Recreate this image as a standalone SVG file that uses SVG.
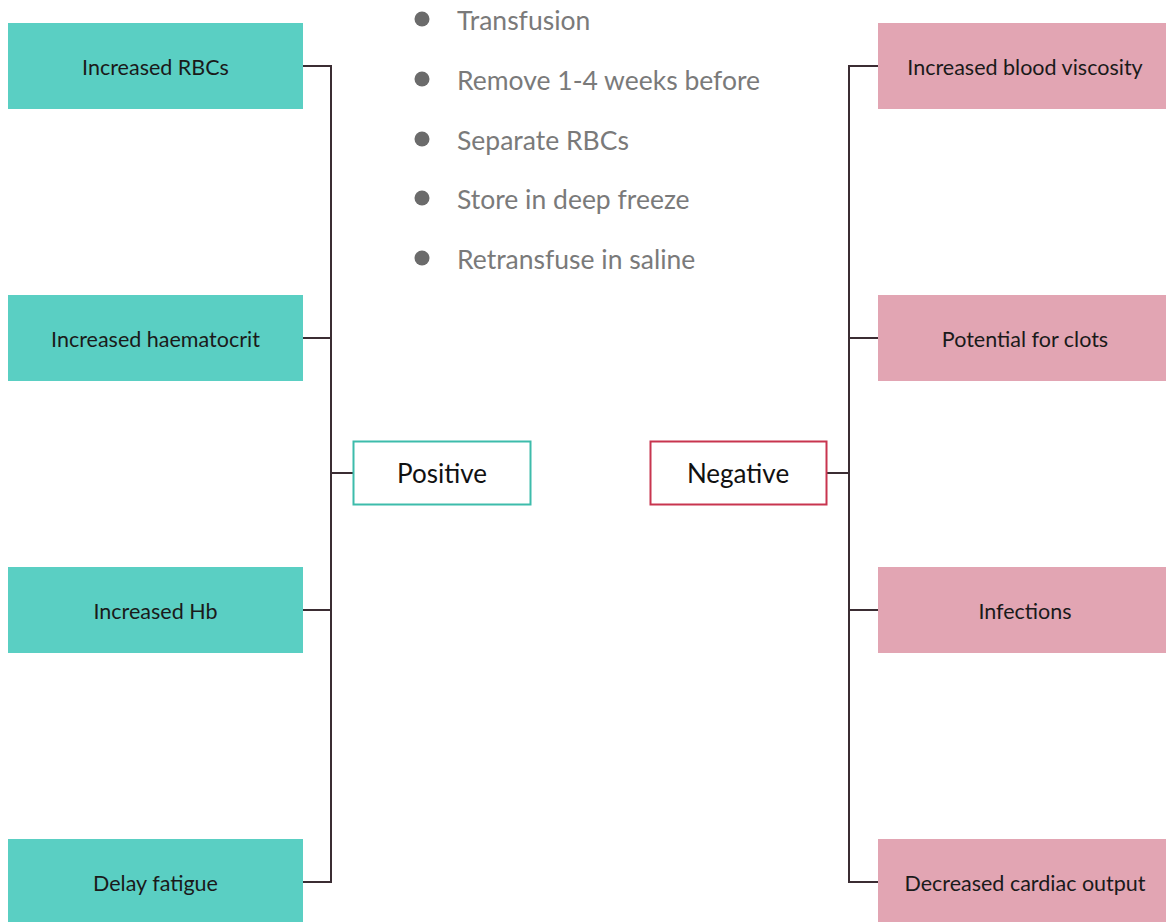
<svg xmlns="http://www.w3.org/2000/svg" width="1166" height="922" viewBox="0 0 1166 922">
  <style>
    .pos { fill: #5acfc3; }
    .neg { fill: #e2a5b3; }
    .lbl { font-family: Lato, "Open Sans", sans-serif; font-size: 21.5px; fill: #1a1a1a; text-anchor: middle; dominant-baseline: central; }
    .hub { font-family: Lato, "Open Sans", sans-serif; font-size: 26px; fill: #111; text-anchor: middle; dominant-baseline: central; }
    .wire { fill: none; stroke: #3b2d33; stroke-width: 2; }
    .bul { fill: #6b6b6b; }
    .btx { font-family: Lato, "Open Sans", sans-serif; font-size: 26.5px; fill: #7a7a7a; dominant-baseline: central; }
  </style>
  <rect width="1166" height="922" fill="#ffffff"/>

  <!-- process steps -->
  <g id="steps">
    <circle class="bul" cx="422" cy="19" r="7.5"/>
    <text class="btx" x="457" y="20">Transfusion</text>
    <circle class="bul" cx="422" cy="79" r="7.5"/>
    <text class="btx" x="457" y="80">Remove 1-4 weeks before</text>
    <circle class="bul" cx="422" cy="139" r="7.5"/>
    <text class="btx" x="457" y="140">Separate RBCs</text>
    <circle class="bul" cx="422" cy="198" r="7.5"/>
    <text class="btx" x="457" y="199">Store in deep freeze</text>
    <circle class="bul" cx="422" cy="258" r="7.5"/>
    <text class="btx" x="457" y="259">Retransfuse in saline</text>
  </g>

  <!-- connectors -->
  <g id="connectors">
    <path class="wire" d="M303 66 H331 V882 H303 M303 338 H331 M303 610 H331 M331 473 H353"/>
    <path class="wire" d="M878 66 H849 V882 H878 M878 338 H849 M878 610 H849 M849 473 H827"/>
  </g>

  <!-- hubs -->
  <g id="positive">
    <rect x="353.5" y="441.5" width="177" height="63" fill="#ffffff" stroke="#3dbcab" stroke-width="2"/>
    <text class="hub" x="442" y="473">Positive</text>
  </g>
  <g id="negative">
    <rect x="650.5" y="441.5" width="176" height="63" fill="#ffffff" stroke="#c8354f" stroke-width="2"/>
    <text class="hub" x="738" y="473">Negative</text>
  </g>

  <!-- positive effects -->
  <g id="pos-rbc">
    <rect class="pos" x="8" y="23" width="295" height="86"/>
    <text class="lbl" x="155.5" y="67">Increased RBCs</text>
  </g>
  <g id="pos-hct">
    <rect class="pos" x="8" y="295" width="295" height="86"/>
    <text class="lbl" x="155.5" y="339">Increased haematocrit</text>
  </g>
  <g id="pos-hb">
    <rect class="pos" x="8" y="567" width="295" height="86"/>
    <text class="lbl" x="155.5" y="611">Increased Hb</text>
  </g>
  <g id="pos-fatigue">
    <rect class="pos" x="8" y="839" width="295" height="86"/>
    <text class="lbl" x="155.5" y="883">Delay fatigue</text>
  </g>

  <!-- negative effects -->
  <g id="neg-viscosity">
    <rect class="neg" x="878" y="23" width="288" height="86"/>
    <text class="lbl" x="1025" y="67">Increased blood viscosity</text>
  </g>
  <g id="neg-clots">
    <rect class="neg" x="878" y="295" width="288" height="86"/>
    <text class="lbl" x="1025" y="339">Potential for clots</text>
  </g>
  <g id="neg-infections">
    <rect class="neg" x="878" y="567" width="288" height="86"/>
    <text class="lbl" x="1025" y="611">Infections</text>
  </g>
  <g id="neg-cardiac">
    <rect class="neg" x="878" y="839" width="288" height="86"/>
    <text class="lbl" x="1025" y="883">Decreased cardiac output</text>
  </g>
</svg>
